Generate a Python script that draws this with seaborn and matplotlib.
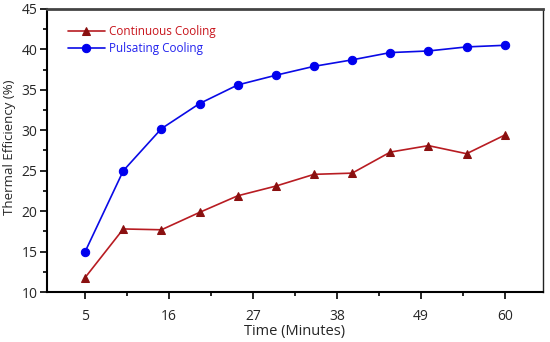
import matplotlib
matplotlib.use("Agg")
import matplotlib.pyplot as plt
import seaborn as sns
import pandas as pd
from matplotlib.ticker import MultipleLocator, FixedLocator

# data
minutes = [5, 10, 15, 20, 25, 30, 35, 40, 45, 50, 55, 60]
continuous = [11.8, 17.8, 17.7, 19.85, 21.9, 23.1, 24.55, 24.7, 27.3, 28.1, 27.1, 29.4]
pulsating = [15.0, 25.0, 30.2, 33.3, 35.6, 36.8, 37.9, 38.7, 39.6, 39.8, 40.3, 40.5]
x_ticks = [5, 16, 27, 38, 49, 60]

df = pd.DataFrame({
    'Time': minutes * 2,
    'Efficiency': continuous + pulsating,
    'Mode': ['Continuous Cooling'] * len(minutes) + ['Pulsating Cooling'] * len(minutes),
})

sns.set_style('white')
plt.rcParams['font.family'] = ['Open Sans', 'DejaVu Sans']

fig = plt.figure(figsize=(5.5, 3.42), dpi=100)
ax = fig.add_axes([0.0855, 0.146, 0.9015, 0.828])

sns.lineplot(data=df, x='Time', y='Efficiency', hue='Mode', style='Mode',
             palette={'Continuous Cooling': '#b81c22', 'Pulsating Cooling': '#0a0ae6'},
             markers={'Continuous Cooling': '^', 'Pulsating Cooling': 'o'},
             dashes=False, markersize=6, linewidth=1.2, ax=ax)

# darker triangles on the continuous series
for line in ax.lines:
    if line.get_marker() == '^':
        line.set_markerfacecolor('#8a1010')
        line.set_markeredgecolor('#8a1010')
    elif line.get_marker() == 'o':
        line.set_markerfacecolor('#0000ee')
        line.set_markeredgecolor('#0000ee')

ax.set_xlim(0, 65)
ax.set_ylim(10, 45)
ax.xaxis.set_major_locator(FixedLocator(x_ticks))
ax.xaxis.set_minor_locator(FixedLocator([10.5, 21.5, 32.5, 43.5, 54.5]))
ax.yaxis.set_major_locator(MultipleLocator(5))
ax.yaxis.set_minor_locator(MultipleLocator(2.5))

ax.tick_params(axis='both', which='major', direction='out', length=5, width=1.2,
               labelsize=10, bottom=True, left=True, color='black')
ax.tick_params(axis='both', which='minor', direction='out', length=3, width=1.2,
               bottom=True, left=True, color='black')
ax.tick_params(axis='x', which='major', pad=7)
ax.tick_params(axis='y', which='major', pad=2)

for side in ['left', 'bottom']:
    ax.spines[side].set_color('black')
    ax.spines[side].set_linewidth(1.5)
ax.spines['top'].set_color('#444444')
ax.spines['top'].set_linewidth(2)
ax.spines['right'].set_color('#222222')
ax.spines['right'].set_linewidth(1)

ax.set_xlabel('Time (Minutes)', fontsize=10.5)
ax.xaxis.set_label_coords(0.5, -0.112)
ax.set_ylabel('Thermal Efficiency (%)', fontsize=9.5)
ax.yaxis.set_label_coords(-0.062, 0.51)

leg = ax.legend(loc='upper left', frameon=False, fontsize=8.5,
                bbox_to_anchor=(0.02, 0.98), handlelength=3.2, handletextpad=0.3,
                labelspacing=0.3)
for text, color in zip(leg.get_texts(), ['#c8141c', '#2222ee']):
    text.set_color(color)

fig.savefig('out.png', dpi=100)
